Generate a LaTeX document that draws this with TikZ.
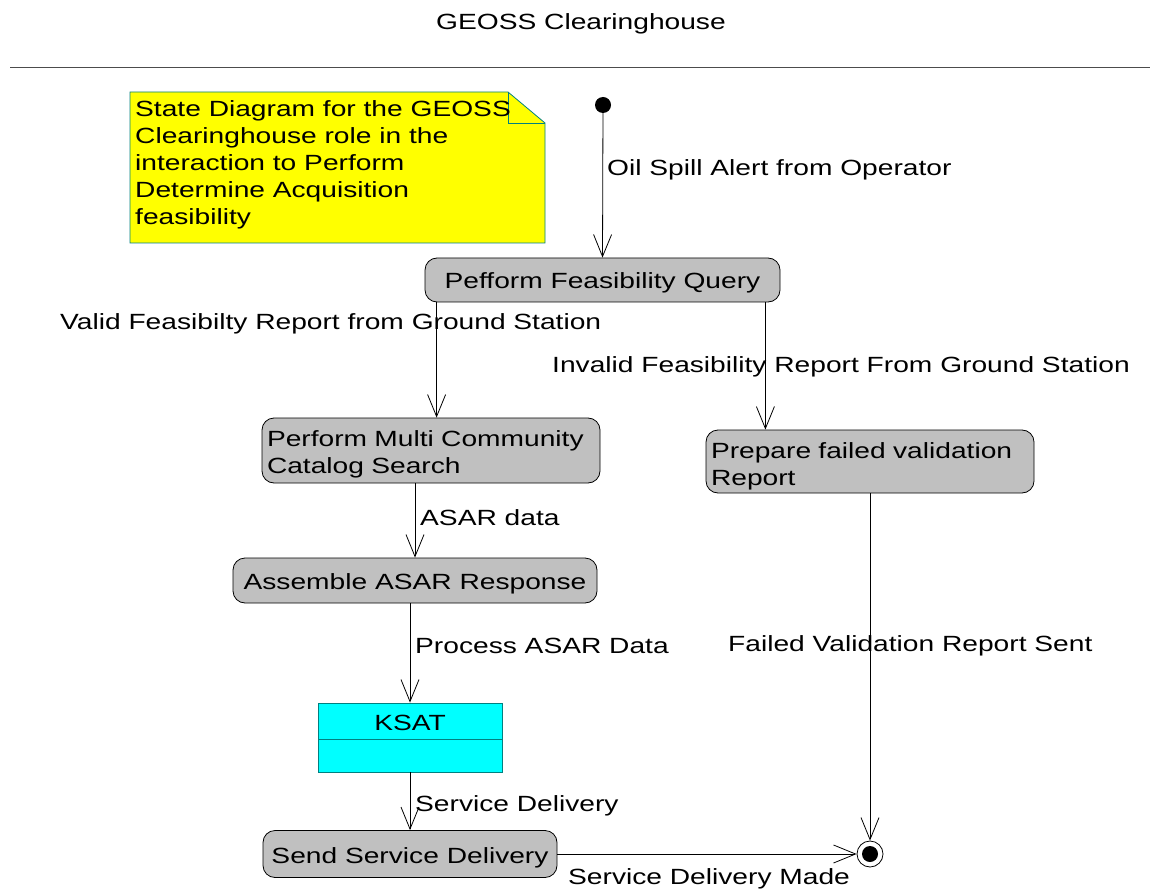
\documentclass[tikz,border=0pt]{standalone}
\usepackage{fontspec}
\setmainfont[FakeStretch=1.28]{Liberation Sans}
\usetikzlibrary{arrows.meta,calc}
\definecolor{stategray}{RGB}{192,192,192}
\definecolor{noteyellow}{RGB}{255,255,0}
\definecolor{tealborder}{RGB}{0,128,128}
\definecolor{ksatcyan}{RGB}{0,255,255}
\begin{document}
\begin{tikzpicture}[x=1pt,y=-1pt,
  every node/.style={font=\fontsize{22}{27}\selectfont},
  statebox/.style={draw=black, line width=0.8pt, fill=stategray, rounded corners=12pt, inner sep=0pt},
  sstate/.style={statebox, text height=18pt, text depth=0pt},
  lstate/.style={statebox, align=left, inner xsep=5pt},
  lbl/.style={anchor=base west, inner sep=0pt},
  arr/.style={draw=black, line width=0.8pt, -{Straight Barb[length=22pt,width=18pt,line width=0.8pt]}},
  line/.style={draw=black, line width=0.8pt}
]
\useasboundingbox (0,0) rectangle (1150,890);

% title and rule
\node[anchor=base] (title) at (581,30) {GEOSS Clearinghouse};
\draw[line width=0.8pt, draw=black!70] (10,67) -- (1150,67);

% note
\fill[noteyellow] (130,92) -- (508,92) -- (545,123) -- (545,243) -- (130,243) -- cycle;
\draw[tealborder, line width=0.8pt] (130,92) -- (508,92) -- (545,123) -- (545,243) -- (130,243) -- cycle;
\draw[tealborder, line width=0.8pt] (508,92) -- (508,123) -- (545,123);
\node[anchor=north west, align=left, inner sep=0pt] (note) at (135,100)
  {State Diagram for the GEOSS\\Clearinghouse role in the\\interaction to Perform\\Determine Acquisition\\feasibility};

% states
\node[circle, fill=black, inner sep=0pt, minimum size=16pt] (start) at (603,105) {};
\node[sstate, minimum width=355pt, minimum height=44pt] (pfq) at (602.5,280) {Pefform Feasibility Query};
\node[lstate, text width=328pt, minimum height=65pt] (pmc) at (431,450.5) {\rule{0pt}{24pt}Perform Multi Community\\Catalog Search};
\node[lstate, text width=318pt, minimum height=63pt] (pfr) at (870,461.5) {\rule{0pt}{25pt}Prepare failed validation\\Report};
\node[sstate, minimum width=364pt, minimum height=45pt] (aar) at (415,580.5) {Assemble ASAR Response};
\node[draw=tealborder, line width=0.8pt, fill=ksatcyan, minimum width=184pt, minimum height=69pt, inner sep=0pt] (ksat) at (410,737.5) {};
\draw[tealborder, line width=0.8pt] (318,739) -- (502,739);
\node (ksatlabel) at (410,723) {KSAT};
\node[sstate, minimum width=294pt, minimum height=47pt] (ssd) at (410,854) {Send Service Delivery};
\node[circle, draw=black, line width=0.8pt, fill=white, inner sep=0pt, minimum size=26pt] (end) at (870,854) {};
\fill[black] (end.center) circle (8pt);

% connectors
\coordinate (pfqL) at ($(pfq.south west)+(12,0)$);
\coordinate (pfqR) at ($(pfq.south east)+(-15,0)$);
\draw[arr] (start) -- (pfq.north);
\draw[arr] (pfqL) -- (pfqL |- pmc.north);
\draw[arr] (pfqR) -- (pfqR |- pfr.north);
\draw[arr] (aar.north |- pmc.south) -- (aar.north);
\draw[arr] (ksat.north |- aar.south) -- (ksat.north);
\draw[arr] (ksat.south) -- (ssd.north);
\draw[arr] (ssd.east) -- (end.west);
\draw[arr] (end.north |- pfr.south) -- (end.north);

% labels
\node[lbl] (l1) at (607,176) {Oil Spill Alert from Operator};
\node[lbl] (l2) at (60,330) {Valid Feasibilty Report from Ground Station};
\node[lbl] (l3) at (552,372) {Invalid Feasibility Report From Ground Station};
\node[lbl] (l4) at (420,525) {ASAR data};
\node[lbl] (l5) at (415,653) {Process ASAR Data};
\node[lbl] (l6) at (728,651) {Failed Validation Report Sent};
\node[lbl] (l7) at (415,811) {Service Delivery};
\node[lbl] (l8) at (568,884) {Service Delivery Made};
\end{tikzpicture}
\end{document}
